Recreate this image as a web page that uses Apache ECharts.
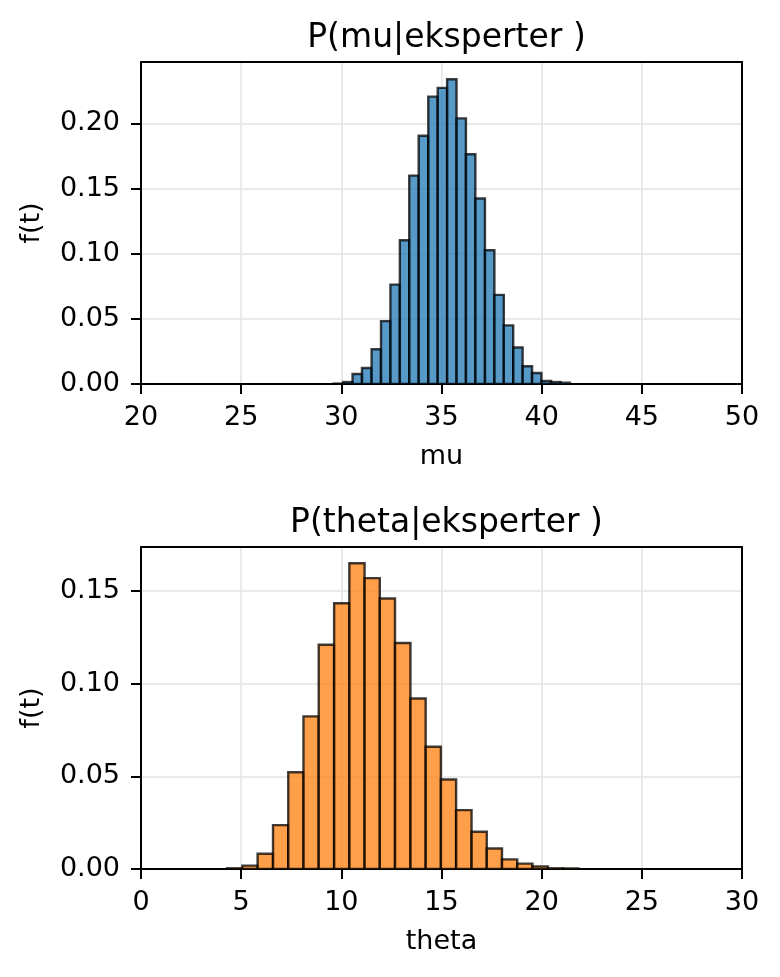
<!DOCTYPE html>
<html>
<head>
    <meta charset="UTF-8">
    <title>P(mu|eksperter ) / P(theta|eksperter )</title>
    <script src="https://cdn.jsdelivr.net/npm/echarts@6/dist/echarts.min.js"></script>
    <style>
        html, body { margin: 0; padding: 0; background: #fff; }
        #chart { width: 780px; height: 977px; }
    </style>
</head>
<body>
<div id="chart"></div>
<script>
    // histogram of mu: bin edges and density per bin
    var muEdges = [29.62, 30.09, 30.56, 31.03, 31.51, 31.98, 32.45, 32.92, 33.39, 33.86, 34.34, 34.81, 35.28,
        35.75, 36.22, 36.69, 37.17, 37.64, 38.11, 38.58, 39.05, 39.52, 39.99, 40.47, 40.94, 41.41];
    var muDensity = [0.0003, 0.0015, 0.0077, 0.0123, 0.0267, 0.0483, 0.0763, 0.1103, 0.160, 0.1906, 0.2206, 0.2273,
        0.2339, 0.2039, 0.1764, 0.1424, 0.1027, 0.0684, 0.0450, 0.028, 0.0136, 0.0085, 0.0023, 0.0015, 0.001];

    // histogram of theta
    var thetaEdges = [4.30, 5.06, 5.82, 6.59, 7.35, 8.11, 8.87, 9.64, 10.40, 11.16, 11.92, 12.68, 13.45, 14.21,
        14.97, 15.73, 16.50, 17.26, 18.02, 18.78, 19.54, 20.31, 21.07, 21.83];
    var thetaDensity = [0.0004, 0.0018, 0.0082, 0.0237, 0.0522, 0.0824, 0.121, 0.1434, 0.165, 0.157, 0.146, 0.122,
        0.092, 0.066, 0.0483, 0.0318, 0.0201, 0.0111, 0.0052, 0.0029, 0.0014, 0.0004, 0.0003];

    // axis ranges / ticks
    var muRange = [20, 50];
    var thetaRange = [0, 30];
    var xTickStep = 5;
    var yTickStep = 0.05;
    var muYMax = 0.2472;
    var thetaYMax = 0.1738;

    function toBins(edges, dens) {
        var out = [];
        for (var i = 0; i < dens.length; i++) {
            out.push([edges[i], edges[i + 1], dens[i]]);
        }
        return out;
    }

    function renderBin(params, api) {
        var p0 = api.coord([api.value(0), 0]);
        var p1 = api.coord([api.value(1), api.value(2)]);
        return {
            type: 'rect',
            shape: { x: p0[0], y: p1[1], width: p1[0] - p0[0], height: p0[1] - p1[1] },
            style: api.style()
        };
    }

    var font = 'DejaVu Sans';
    var tickFont = 27;

    function xAxisOf(idx, range, name) {
        return {
            type: 'value', gridIndex: idx, min: range[0], max: range[1], interval: xTickStep,
            name: name, nameLocation: 'middle', nameGap: 59,
            nameTextStyle: { fontFamily: font, fontSize: tickFont, color: '#000' },
            axisLine: { show: true, onZero: false, lineStyle: { color: '#000', width: 2 } },
            axisTick: { show: true, length: 10, lineStyle: { color: '#000', width: 2 } },
            axisLabel: { fontFamily: font, fontSize: tickFont, color: '#000', margin: 20 },
            splitLine: { show: true, lineStyle: { color: '#e3e3e3', width: 1.5 } }
        };
    }

    function yAxisOf(idx, max) {
        return {
            type: 'value', gridIndex: idx, min: 0, max: max, interval: yTickStep,
            name: 'f(t)', nameLocation: 'middle', nameGap: 96,
            nameTextStyle: { fontFamily: font, fontSize: tickFont, color: '#000' },
            axisLine: { show: true, lineStyle: { color: '#000', width: 2 } },
            axisTick: { show: true, length: 10, lineStyle: { color: '#000', width: 2 } },
            axisLabel: {
                fontFamily: font, fontSize: tickFont, color: '#000', margin: 21, showMaxLabel: false,
                formatter: function (v) { return v.toFixed(2); }
            },
            splitLine: { show: true, lineStyle: { color: '#e3e3e3', width: 1.5 } }
        };
    }

    // top / right spines only (plain lines, no ticks)
    function spineX(idx, range) {
        return {
            type: 'value', gridIndex: idx, position: 'top', min: range[0], max: range[1],
            axisLine: { show: true, onZero: false, lineStyle: { color: '#000', width: 2 } },
            axisTick: { show: false }, axisLabel: { show: false }, splitLine: { show: false }
        };
    }

    function spineY(idx, max) {
        return {
            type: 'value', gridIndex: idx, position: 'right', min: 0, max: max,
            axisLine: { show: true, onZero: false, lineStyle: { color: '#000', width: 2 } },
            axisTick: { show: false }, axisLabel: { show: false }, splitLine: { show: false }
        };
    }

    var myChart = echarts.init(document.getElementById('chart'), null, { renderer: 'canvas' });

    var option = {
        backgroundColor: '#fff',
        animation: false,
        title: [
            { text: 'P(mu|eksperter )', left: 441.5, top: 17, textAlign: 'center',
              textStyle: { fontFamily: font, fontSize: 33, fontWeight: 'normal', color: '#000' } },
            { text: 'P(theta|eksperter )', left: 441.5, top: 502, textAlign: 'center',
              textStyle: { fontFamily: font, fontSize: 33, fontWeight: 'normal', color: '#000' } }
        ],
        grid: [
            { left: 141, right: 38, top: 62, height: 322 },
            { left: 141, right: 38, top: 547, height: 322 }
        ],
        xAxis: [xAxisOf(0, muRange, 'mu'), xAxisOf(1, thetaRange, 'theta'), spineX(0, muRange), spineX(1, thetaRange)],
        yAxis: [yAxisOf(0, muYMax), yAxisOf(1, thetaYMax), spineY(0, muYMax), spineY(1, thetaYMax)],
        series: [
            {
                type: 'custom', xAxisIndex: 0, yAxisIndex: 0, clip: true,
                renderItem: renderBin,
                encode: { x: [0, 1], y: 2 },
                itemStyle: { color: 'rgba(31,119,180,0.75)', borderColor: 'rgba(0,0,0,0.75)', borderWidth: 2.4 },
                data: toBins(muEdges, muDensity)
            },
            {
                type: 'custom', xAxisIndex: 1, yAxisIndex: 1, clip: true,
                renderItem: renderBin,
                encode: { x: [0, 1], y: 2 },
                itemStyle: { color: 'rgba(255,127,14,0.75)', borderColor: 'rgba(0,0,0,0.75)', borderWidth: 2.4 },
                data: toBins(thetaEdges, thetaDensity)
            }
        ]
    };
    myChart.setOption(option);
</script>
</body>
</html>
